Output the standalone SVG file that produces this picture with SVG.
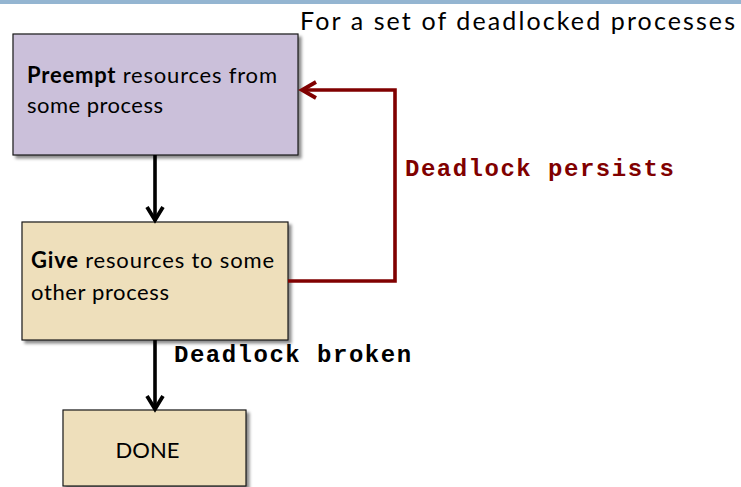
<svg xmlns="http://www.w3.org/2000/svg" width="741" height="487" viewBox="0 0 741 487">
  <defs>
    <filter id="shadow" x="-10%" y="-10%" width="130%" height="130%">
      <feDropShadow dx="3" dy="3" stdDeviation="1.8" flood-color="#000" flood-opacity="0.45"/>
    </filter>
  </defs>
  <style>
    .box { stroke: #1a1a1a; stroke-width: 1.2; filter: url(#shadow); }
    .purple { fill: #cbc0da; }
    .tan { fill: #eedfbb; }
    .label { font-family: Lato, "Open Sans", "Liberation Sans", sans-serif; font-size: 22px; fill: #000; }
    .title { font-family: Lato, "Open Sans", "Liberation Sans", sans-serif; font-size: 25px; fill: #000; }
    .code { font-family: "Liberation Mono", "DejaVu Sans Mono", monospace; font-weight: bold; font-size: 24px; letter-spacing: 1.5px; }
    .wire { fill: none; stroke-width: 3.6; }
    .head { fill: none; stroke-width: 3.8; }
  </style>

  <!-- header band -->
  <rect x="0" y="0" width="741" height="4" fill="#94b5d1"/>

  <text class="title" x="300" y="30" textLength="435" lengthAdjust="spacing">For a set of deadlocked processes</text>

  <g id="preempt">
    <rect class="box purple" x="13" y="34" width="285" height="121"/>
    <text class="label" x="27" y="83" textLength="250" lengthAdjust="spacing"><tspan font-weight="bold">Preempt</tspan> resources from</text>
    <text class="label" x="27" y="113" textLength="136" lengthAdjust="spacing">some process</text>
  </g>

  <g id="give">
    <rect class="box tan" x="22" y="222" width="266" height="118"/>
    <text class="label" x="31" y="268" textLength="243" lengthAdjust="spacing"><tspan font-weight="bold">Give</tspan> resources to some</text>
    <text class="label" x="31" y="300" textLength="138" lengthAdjust="spacing">other process</text>
  </g>

  <g id="done">
    <rect class="box tan" x="63" y="410" width="183" height="76"/>
    <text class="label" x="147.5" y="458" font-size="19" text-anchor="middle">DONE</text>
  </g>

  <g id="connectors">
    <path class="wire" stroke="#000" d="M155,155 L155,221"/>
    <path class="head" stroke="#000" d="M147,207 L155,220 L163,207"/>

    <path class="wire" stroke="#000" d="M155,340 L155,409"/>
    <path class="head" stroke="#000" d="M147,396 L155,409 L163,396"/>

    <path class="wire" stroke="#800000" d="M288,281 L395,281 L395,90 L302,90"/>
    <path class="head" stroke="#800000" d="M316,82 L302,90 L316,98"/>

    <text class="code" x="405" y="176" fill="#800000">Deadlock persists</text>
    <text class="code" x="174" y="362" fill="#000">Deadlock broken</text>
  </g>
</svg>
